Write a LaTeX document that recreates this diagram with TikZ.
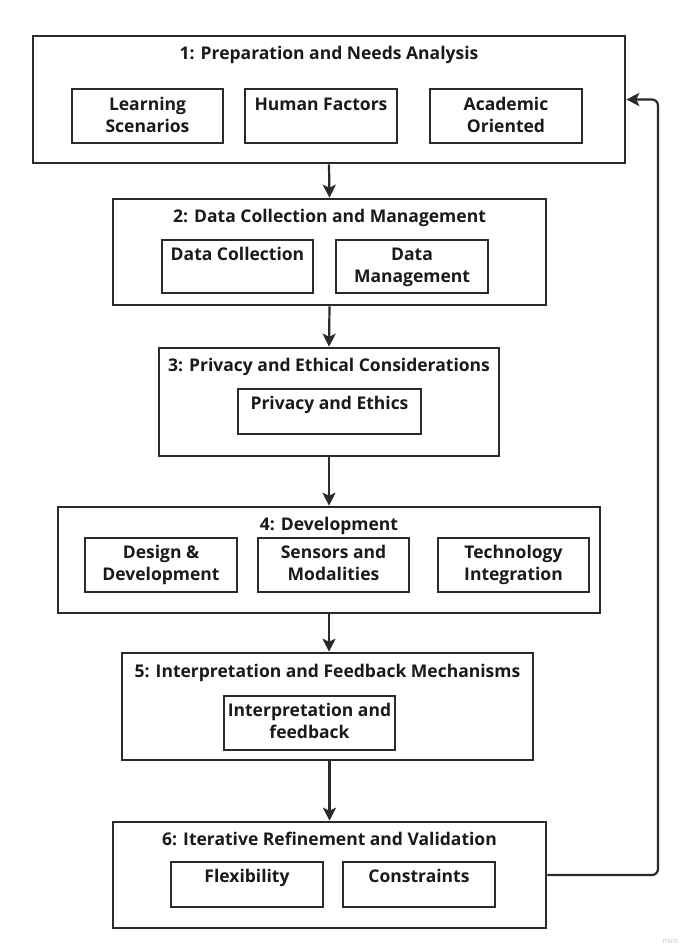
\documentclass[tikz,border=0pt]{standalone}
\usepackage{fontspec}
\setmainfont{Open Sans}
\usetikzlibrary{arrows.meta}
\definecolor{linec}{HTML}{2A2A2A}
\definecolor{textc}{HTML}{1A1A1A}
\tikzset{
  bigbox/.style={draw=linec, line width=2.6pt, fill=white, inner sep=0pt},
  subbox/.style={draw=linec, line width=2.3pt, fill=white, inner sep=0pt},
  titletext/.style={anchor=base, inner sep=0pt, text=textc, font=\fontsize{17.5}{21.7}\selectfont\bfseries},
  subtext/.style={anchor=north, inner sep=0pt, align=center, text=textc, font=\fontsize{17.5}{22}\selectfont\bfseries},
  flow/.style={draw=linec, line width=2.2pt, -{Stealth[length=13pt,width=13pt,inset=3pt]}},
}
\begin{document}
\begin{tikzpicture}[x=1pt,y=-1pt]
\useasboundingbox[fill=white] (0,0) rectangle (680,947);

% Box 1
\node[bigbox, minimum width=592, minimum height=127] (b1) at (329,99.5) {};
\node[titletext] (t1) at (329,60) {1: Preparation and Needs Analysis};
\node[subbox, minimum width=151, minimum height=54] (s11) at (147.5,116) {};
\node[subbox, minimum width=152, minimum height=54] (s12) at (321,116) {};
\node[subbox, minimum width=152, minimum height=54] (s13) at (506,116) {};
\node[subtext] (l11) at ([yshift=-9.5]s11.north) {Learning\\Scenarios};
\node[subtext] (l12) at ([yshift=-9.5]s12.north) {Human Factors};
\node[subtext] (l13) at ([yshift=-9.5]s13.north) {Academic\\Oriented};

% Box 2
\node[bigbox, minimum width=433, minimum height=106] (b2) at (329.5,252) {};
\node[titletext] (t2) at (329.5,222) {2: Data Collection and Management};
\node[subbox, minimum width=151, minimum height=53] (s21) at (237.5,266.5) {};
\node[subbox, minimum width=152, minimum height=53] (s22) at (412,266.5) {};
\node[subtext] (l21) at ([yshift=-8.5]s21.north) {Data Collection};
\node[subtext] (l22) at ([yshift=-8.5]s22.north) {Data\\Management};

% Box 3
\node[bigbox, minimum width=340, minimum height=108] (b3) at (329,402) {};
\node[titletext] (t3) at (329,371) {3: Privacy and Ethical Considerations};
\node[subbox, minimum width=183, minimum height=45] (s31) at (329.5,411.5) {};
\node[subtext] (l31) at ([yshift=-8.5]s31.north) {Privacy and Ethics};

% Box 4
\node[bigbox, minimum width=542, minimum height=106] (b4) at (329,560) {};
\node[titletext] (t4) at (329,530) {4: Development};
\node[subbox, minimum width=152, minimum height=54] (s41) at (161,565) {};
\node[subbox, minimum width=151, minimum height=54] (s42) at (333.5,565) {};
\node[subbox, minimum width=151, minimum height=54] (s43) at (513.5,565) {};
\node[subtext] (l41) at ([yshift=-8]s41.north) {Design \&\\Development};
\node[subtext] (l42) at ([yshift=-8]s42.north) {Sensors and\\Modalities};
\node[subtext] (l43) at ([yshift=-8]s43.north) {Technology\\Integration};

% Box 5
\node[bigbox, minimum width=411, minimum height=107] (b5) at (327.5,706.5) {};
\node[titletext] (t5) at (327.5,677) {5: Interpretation and Feedback Mechanisms};
\node[subbox, minimum width=171, minimum height=54] (s51) at (309.5,723) {};
\node[subtext] (l51) at ([yshift=-8]s51.north) {Interpretation and\\feedback};

% Box 6
\node[bigbox, minimum width=433, minimum height=106] (b6) at (329.5,875) {};
\node[titletext] (t6) at (329.5,845) {6: Iterative Refinement and Validation};
\node[subbox, minimum width=152, minimum height=45] (s61) at (247,884.5) {};
\node[subbox, minimum width=152, minimum height=45] (s62) at (419,884.5) {};
\node[subtext] (l61) at ([yshift=-8]s61.north) {Flexibility};
\node[subtext] (l62) at ([yshift=-8]s62.north) {Constraints};

% Flow arrows
\draw[flow] (b1.south) -- (b2.north);
\draw[flow] (b2.south) -- (b3.north);
\draw[flow] (b3.south) -- (b4.north);
\draw[flow] (b4.south) -- (b5.north -| b4.south);
\draw[flow] (b5.south -| b6.north) -- (b6.north);

% Feedback loop
\coordinate (fb) at (658,875);
\draw[flow, rounded corners=6pt] (b6.east) -- (fb) |- (b1.east);

% watermark
\node[anchor=base east, inner sep=0pt, text=black!25, font=\fontsize{7}{8}\selectfont] (wm) at (678,943) {miro};
\end{tikzpicture}
\end{document}
